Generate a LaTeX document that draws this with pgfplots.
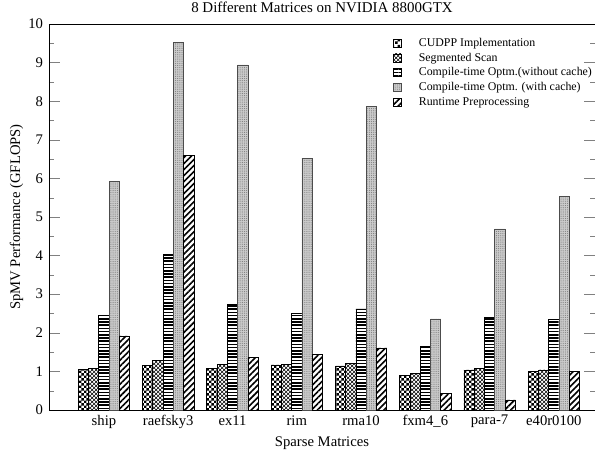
\documentclass[border=0pt]{standalone}
\usepackage{fontspec}
\setmainfont{Liberation Serif}
\usepackage{pgfplots}
\pgfplotsset{compat=1.18}
\usetikzlibrary{patterns,patterns.meta}

\pgfdeclarepatternformonly{mychecker}{\pgfpointorigin}{\pgfpoint{4pt}{4pt}}{\pgfpoint{4pt}{4pt}}{%
  \pgfpathrectangle{\pgfpointorigin}{\pgfpoint{2pt}{2pt}}%
  \pgfpathrectangle{\pgfpoint{2pt}{2pt}}{\pgfpoint{2pt}{2pt}}%
  \pgfusepath{fill}}

\pgfplotstableread{
x cudpp seg nocache cache runtime
0 1.06 1.08 2.46 5.92 1.92
1 1.16 1.29 4.02 9.52 6.59
2 1.08 1.19 2.74 8.94 1.36
3 1.17 1.18 2.51 6.52 1.43
4 1.14 1.21 2.62 7.87 1.61
5 0.90 0.94 1.66 2.36 0.44
6 1.04 1.08 2.39 4.69 0.26
7 1.01 1.04 2.34 5.54 1.01
}\datatable

\begin{document}
\begin{tikzpicture}
\begin{axis}[
  scale only axis,
  width=409.5pt, height=289.5pt,
  at={(0,0)}, anchor=south west,
  ybar=0pt,
  bar width=0.16,
  xmin=-0.855, xmax=7.64,
  ymin=0, ymax=10,
  ytick={0,1,...,10},
  minor y tick num=1,
  tick align=inside,
  ytick pos=both,
  yticklabel pos=left,
  major tick length=8pt,
  minor tick length=4pt,
  xtick=data,
  xtick style={draw=none},
  xticklabels={ship,raefsky3,ex11,rim,rma10,fxm4\_6,para-7,e40r0100},
  /pgf/number format/assume math mode=true,
  tick label style={font=\fontsize{11}{13}\selectfont},
  xticklabel style={yshift=-0.5pt},
  yticklabel style={xshift=-1pt},
  title={8 Different Matrices on NVIDIA 8800GTX},
  title style={font=\fontsize{11.2}{13}\selectfont, at={(0.5,1)}, anchor=base, yshift=2.3pt},
  xlabel={Sparse Matrices},
  ylabel={SpMV Performance (GFLOPS)},
  label style={font=\fontsize{11}{13}\selectfont},
  xlabel style={yshift=1pt},
  ylabel style={yshift=-3pt},
  axis line style={line width=0.6pt},
  legend cell align=left,
  legend style={draw=none, fill=none, at={(0.622,0.978)}, anchor=north west,
    font=\fontsize{8.9}{10}\selectfont, row sep=-0.6pt,
    /tikz/every odd column/.append style={column sep=11pt}},
  legend image code/.code={\draw[#1] (0pt,-3pt) rectangle (6pt,3pt);},
]
\addplot[draw=black, line width=0.5pt, pattern=mychecker, bar shift=-0.32] table[x=x,y=cudpp]{\datatable};
\addlegendentry{CUDPP Implementation}
\addplot[draw=black, line width=0.5pt, pattern=crosshatch, bar shift=-0.16] table[x=x,y=seg]{\datatable};
\addlegendentry{Segmented Scan}
\addplot[draw=black, line width=0.5pt, pattern={Lines[angle=0,distance=2.4pt,line width=1.1pt]}, bar shift=0] table[x=x,y=nocache]{\datatable};
\addlegendentry{Compile-time Optm.(without cache)}
\addplot[draw=black!70, line width=0.5pt, fill=black!20, postaction={pattern={Dots[distance=1.4pt,radius=0.35pt]}, pattern color=black!55}, bar shift=0.16] table[x=x,y=cache]{\datatable};
\addlegendentry{Compile-time Optm. (with cache)}
\addplot[draw=black, line width=0.5pt, pattern={Lines[angle=45,distance=3.2pt,line width=1.2pt]}, bar shift=0.32] table[x=x,y=runtime]{\datatable};
\addlegendentry{Runtime Preprocessing}
\end{axis}
\pgfresetboundingbox
\path (-36.75pt,-30pt) rectangle (409.5pt,307.5pt);
\end{tikzpicture}
\end{document}
